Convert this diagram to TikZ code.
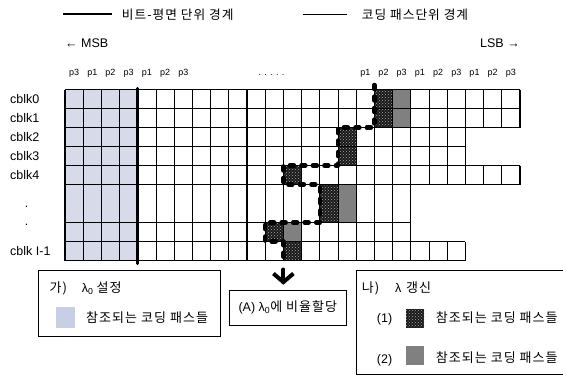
\documentclass[tikz,border=0pt]{standalone}
\usepackage{fontspec}
\setmainfont{Liberation Sans}
\newfontfamily\kr{Noto Sans CJK KR}[LetterSpace=8]
\usetikzlibrary{patterns,arrows.meta}
\definecolor{lightcell}{RGB}{214,218,233}
\definecolor{legsq}{RGB}{200,206,228}
\definecolor{midgray}{RGB}{128,128,128}
\tikzset{
  lat/.style={font=\fontsize{12.5}{14}\selectfont, inner sep=0pt},
  plab/.style={font=\fontsize{9}{11}\selectfont, inner sep=0pt, anchor=base},
  krleg/.style={font=\kr\fontsize{12.7}{14}\selectfont, inner sep=0pt, anchor=base west},
  krbox/.style={font=\kr\fontsize{13}{15}\selectfont, inner sep=0pt, anchor=base west},
  hline/.style={line width=1.2pt},
  passline/.style={line width=0.7pt},
  bpline/.style={line width=1.2pt},
  darkcell/.style={fill=black!90, postaction={pattern=crosshatch dots, pattern color=gray!70}},
  graycell/.style={fill=midgray},
  box/.style={draw, line width=0.9pt, inner sep=0pt},
  dashpath/.style={line width=4.5pt, line cap=round, line join=round, dash pattern=on 4pt off 7.5pt},
  shaft/.style={line width=4pt, line cap=round},
  chevron/.style={line width=4pt, line join=miter}
}
\begin{document}
\begin{tikzpicture}[x=1pt,y=-1pt]
\useasboundingbox (0,0) rectangle (563,378);
\clip (0,0) rectangle (563,378);

% legend
\draw[line width=2.8pt] (63.3,14) -- (111.7,14);
\node[krleg] (leg1) at (121.7,19.6) {비트-평면 단위 경계};
\draw[line width=1pt] (302.7,14) -- (346.7,14);
\node[krleg] (leg2) at (361.7,19.6) {코딩 패스단위 경계};

\node[lat, anchor=base west] (msb) at (65,47) {← MSB};
\node[lat, anchor=base east] (lsb) at (520,47) {LSB →};

% pass labels
\foreach \k/\p in {0/p3,1/p1,2/p2,3/p3,4/p1,5/p2,6/p3,16/p1,17/p2,18/p3,19/p1,20/p2,21/p3,22/p1,23/p2,24/p3}
  \node[plab] (lab\k) at (65+18.2*\k+9.1,75.5) {\p};
\node[plab] (ldots) at (271.5,75.5) {. . . . .};

% row labels
\node[lat, anchor=base west] (cb0) at (10,103.3) {cblk0};
\node[lat, anchor=base west] (cb1) at (10,122.3) {cblk1};
\node[lat, anchor=base west] (cb2) at (10,141.3) {cblk2};
\node[lat, anchor=base west] (cb3) at (10,160.3) {cblk3};
\node[lat, anchor=base west] (cb4) at (10,179.3) {cblk4};
\node[lat, anchor=base] (vd1) at (26.7,207.7) {.};
\node[lat, anchor=base] (vd2) at (26.7,225) {.};
\node[lat, anchor=base west] (cbl) at (10,255.3) {cblk I-1};

% fills
\foreach \t/\b in {89.5/108.5,108.5/127.5,127.5/146.5,146.5/165.5,165.5/184.5,184.5/222.5,222.5/241.5,241.5/260.5}
  \fill[lightcell] (65,\t) rectangle (137.8,\b);
\foreach \t/\b/\k in {89.5/108.5/17,108.5/127.5/17,127.5/146.5/15,146.5/165.5/15,165.5/184.5/12,184.5/222.5/14,222.5/241.5/11,241.5/260.5/12}
  \path[darkcell] (65+18.2*\k,\t) rectangle (83.2+18.2*\k,\b);
\foreach \t/\b/\k in {89.5/108.5/18,108.5/127.5/18,184.5/222.5/15,222.5/241.5/12}
  \path[graycell] (65+18.2*\k,\t) rectangle (83.2+18.2*\k,\b);

% grid lines
\foreach \t/\b/\nc in {89.5/108.5/25,108.5/127.5/25,127.5/146.5/22,146.5/165.5/22,165.5/184.5/25,184.5/222.5/19,222.5/241.5/19,241.5/260.5/22} {
  \draw[hline] (65,\t) -- (65+18.2*\nc,\t);
  \draw[hline] (65,\b) -- (65+18.2*\nc,\b);
  \foreach \k in {2,3,5,6,8,9,11,12,14,15,17,18,20,21,23,24} {
    \ifnum\k<\nc \draw[passline] (65+18.2*\k,\t) -- (65+18.2*\k,\b); \fi
  }
  \foreach \k in {0,1,7,10,13,16,19,22,25} {
    \ifnum\k>\nc \else \draw[bpline] (65+18.2*\k,\t) -- (65+18.2*\k,\b); \fi
  }
}
\draw[line width=3.3pt, line cap=round] (137.8,88.5) -- (137.8,263.5);

% dashed boundary
\draw[dashpath] (374.4,85) -- (374.4,127.5) -- (338,127.5) -- (338,165.5) -- (283.4,165.5)
  -- (283.4,184.5) -- (319.8,184.5) -- (319.8,222.5) -- (265.2,222.5) -- (265.2,241.5)
  -- (283.4,241.5) -- (283.4,258);

% boxes
\node[box, minimum width=182.4pt, minimum height=66pt] (boxGa) at (129.5,303) {};
\node[krbox] (gaT) at (49.3,292.8) {가)};
\node[lat, anchor=base west] (gaL) at (81.7,292.8) {λ\textsubscript{0}};
\node[krbox] (gaS) at (96.5,292.8) {설정};
\path[fill=legsq] (56,307.3) rectangle (75,327.7);
\node[krbox] (gaR) at (86,322.2) {참조되는 코딩 패스들};

\node[box, minimum width=117.7pt, minimum height=35.7pt] (boxA) at (287.85,307.85)
  {\fontsize{12.5}{14}\selectfont (A) λ\textsubscript{0}{\kr\fontsize{13}{15}\selectfont 에 비율할당}};

% arrow to box (A)
\coordinate (arrtop) at (283.4,269.5);
\path (arrtop |- boxA.north) ++(0,-7.5) coordinate (arrtip);
\draw[shaft] (arrtop) -- (arrtip);
\draw[chevron] ([shift={(-10,-8.5)}]arrtip) -- (arrtip) -- ([shift={(10,-8.5)}]arrtip);

\node[box, minimum width=209.3pt, minimum height=104.3pt] (boxNa) at (461.35,322.15) {};
\node[krbox] (naT) at (361.7,292.8) {나)};
\node[lat, anchor=base west] (naL) at (395,292.8) {λ};
\node[krbox] (naS) at (406,292.8) {갱신};
\node[lat, anchor=base west] (n1) at (376.7,322.8) {(1)};
\path[darkcell] (406,309) rectangle (424.3,327.7);
\node[krbox] (n1t) at (435.7,322.2) {참조되는 코딩 패스들};
\node[lat, anchor=base west] (n2) at (376.7,363) {(2)};
\path[graycell] (406,345.7) rectangle (424.3,365);
\node[krbox] (n2t) at (435.7,362.2) {참조되는 코딩 패스들};
\end{tikzpicture}
\end{document}
